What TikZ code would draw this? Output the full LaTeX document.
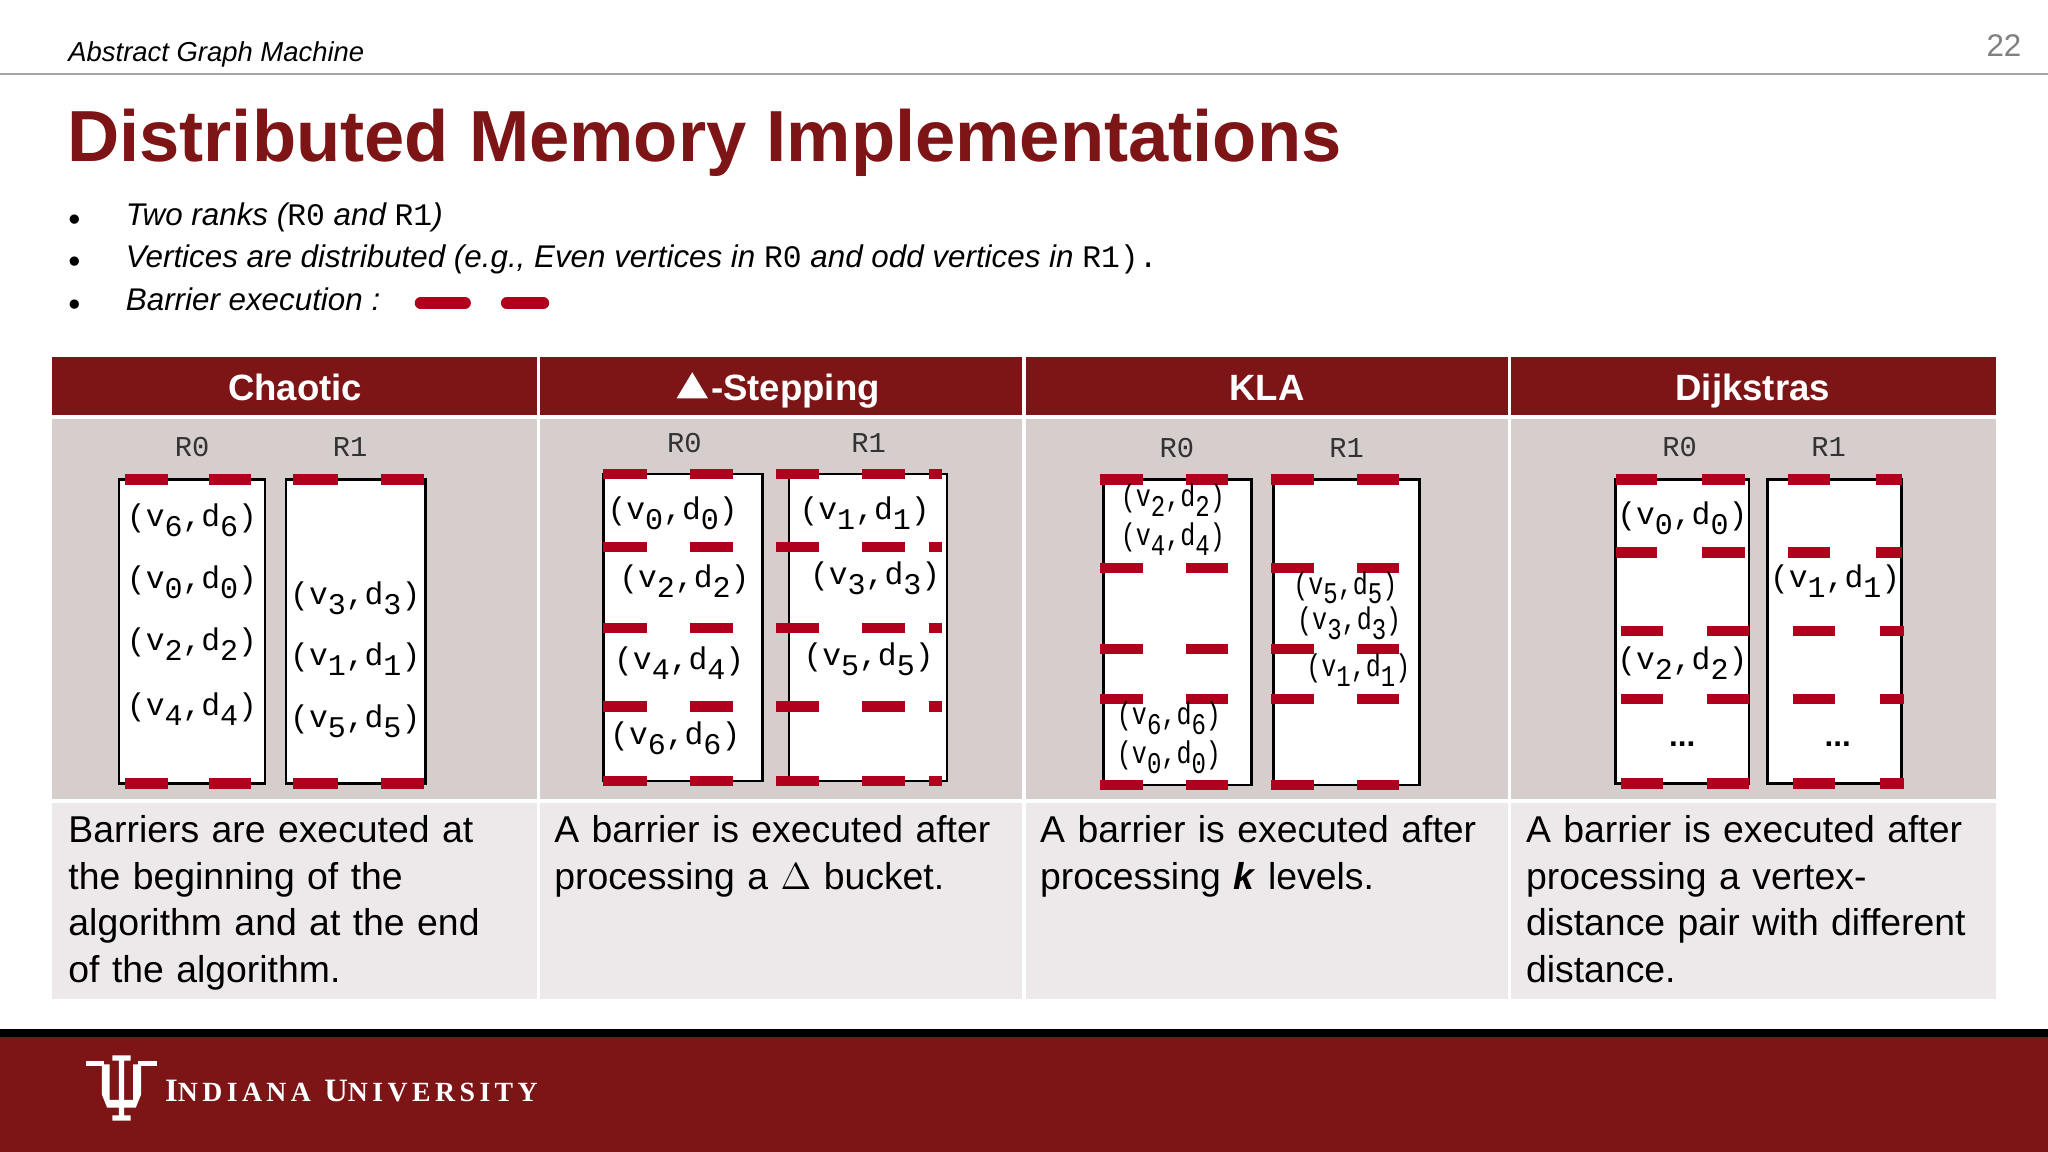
\documentclass[tikz,border=0pt]{standalone}
\usepackage{fontspec}
\setmainfont{Liberation Sans}
\setmonofont{Liberation Mono}
\newfontfamily\iuserif[LetterSpace=16]{Liberation Serif}
\definecolor{iured}{HTML}{7D1416}
\definecolor{dashred}{HTML}{B0001E}
\definecolor{cellg}{HTML}{D6CDCD}
\definecolor{celll}{HTML}{EDE9EA}
\newcommand{\sbx}[1]{\raisebox{-0.6ex}{\fontsize{11.5pt}{11pt}\selectfont #1}}
\newcommand{\pr}[2]{(v\sbx{#1},d\sbx{#2})}
\begin{document}
\begin{tikzpicture}[x=0.5pt,y=-0.5pt,
  hdr/.style={font=\fontsize{14pt}{16pt}\selectfont\bfseries,text=white,anchor=base},
  rk/.style={font=\ttfamily\fontsize{11pt}{12pt}\selectfont,text=black!80},
  ent/.style={font=\ttfamily\fontsize{12pt}{13pt}\selectfont,inner sep=0pt},
  kent/.style={ent,xscale=0.8},
  box/.style={draw=black,line width=1pt,fill=white},
  bar/.style={draw=dashred,line width=4pt},
  desc/.style={font=\fontsize{14.3pt}{17.8pt}\selectfont,anchor=north west,align=left,text width=175pt,inner sep=0pt}]
\useasboundingbox (0,0) rectangle (1568,882);
\fill[white] (0,0) rectangle (1568,882);
% header
\node[anchor=base west,inner sep=0pt,font=\itshape\fontsize{10.5pt}{12pt}\selectfont] (hd) at (52,47) {Abstract Graph Machine};
\node[anchor=base east,inner sep=0pt,font=\fontsize{12pt}{14pt}\selectfont,text=black!50] (pg) at (1548,43) {22};
\draw[black!35,line width=0.8pt] (0,57) -- (1568,57);
\node[anchor=base west,inner sep=0pt,font=\bfseries\fontsize{27.7pt}{32pt}\selectfont,text=iured] (title) at (51,124) {Distributed Memory Implementations};
% bullets
\foreach \y/\t in {173/{Two ranks ({\upshape\ttfamily R0} and {\upshape\ttfamily R1})},
  205/{Vertices are distributed (e.g., Even vertices in {\upshape\ttfamily R0} and odd vertices in {\upshape\ttfamily R1).}},
  238/{Barrier execution :}}{
  \node[anchor=base west,inner sep=0pt,font=\fontsize{9pt}{14pt}\selectfont] at (52,\y) {$\bullet$};
  \node[anchor=base west,inner sep=0pt,font=\itshape\fontsize{12pt}{14pt}\selectfont] at (96,\y) {\t};
}
\draw[dashred,line width=4.5pt,line cap=round] (322,232) -- (356,232);
\draw[dashred,line width=4.5pt,line cap=round] (388,232) -- (416,232);
% table
\fill[iured] (40,273) rectangle (1528,318);
\fill[cellg] (40,321) rectangle (1528,612);
\fill[celll] (40,615) rectangle (1528,765);
\foreach \x in {412,784,1156}{\draw[white,line width=1.2pt] (\x,273) -- (\x,765);}
\node[hdr] (h1) at (226,307) {Chaotic};
\node[hdr] (h2) at (609,307) {-Stepping};
\fill[white] (518,305) -- (542,305) -- (530,285) -- cycle;
\node[hdr] (h3) at (970,307) {KLA};
\node[hdr] (h4) at (1342,307) {Dijkstras};
% ---------- Chaotic
\node[rk] at (147,342) {R0}; \node[rk] at (268,342) {R1};
\draw[box] (91,367) rectangle (203,600);
\draw[box] (219,367) rectangle (326,600);
\foreach \y in {367,600}{
  \draw[bar] (96,\y)--(129,\y); \draw[bar] (160,\y)--(192,\y);
  \draw[bar] (224,\y)--(259,\y); \draw[bar] (292,\y)--(325,\y);}
\node[ent] at (147,398) {\pr66}; \node[ent] at (147,446) {\pr00};
\node[ent] at (147,493) {\pr22}; \node[ent] at (147,543) {\pr44};
\node[ent] at (272,458) {\pr33}; \node[ent] at (272,505) {\pr11};
\node[ent] at (272,552) {\pr55};
% ---------- Delta
\node[rk] at (524,339) {R0}; \node[rk] at (665,339) {R1};
\draw[box] (462,363) rectangle (584,598);
\draw[box] (604,363) rectangle (725,598);
\foreach \y in {363,419,481,541,598}{
  \draw[bar] (462,\y)--(495,\y); \draw[bar] (528,\y)--(561,\y);
  \draw[bar] (594,\y)--(627,\y); \draw[bar] (660,\y)--(693,\y); \draw[bar] (711,\y)--(721,\y);}
\node[ent] at (515,393) {\pr00}; \node[ent] at (524,445) {\pr22};
\node[ent] at (520,508) {\pr44}; \node[ent] at (517,565) {\pr66};
\node[ent] at (662,393) {\pr11}; \node[ent] at (670,443) {\pr33};
\node[ent] at (665,505) {\pr55};
% ---------- KLA
\node[rk] at (901,343) {R0}; \node[rk] at (1031,343) {R1};
\draw[box] (845,367) rectangle (958,601);
\draw[box] (975,367) rectangle (1087,601);
\foreach \y in {367,435,497,535,601}{
  \draw[bar] (842,\y)--(875,\y); \draw[bar] (908,\y)--(940,\y);
  \draw[bar] (973,\y)--(1006,\y); \draw[bar] (1039,\y)--(1071,\y);}
\node[kent] at (898,383) {\pr22}; \node[kent] at (898,413) {\pr44};
\node[kent] at (1030,450) {\pr55}; \node[kent] at (1033,477) {\pr33};
\node[kent] at (1040,513) {\pr11};
\node[kent] at (895,550) {\pr66}; \node[kent] at (895,580) {\pr00};
% ---------- Dijkstra
\node[rk] at (1286,342) {R0}; \node[rk] at (1400,342) {R1};
\draw[box] (1237,367) rectangle (1339,600);
\draw[box] (1353,367) rectangle (1456,600);
\foreach \y in {367,423}{
  \draw[bar] (1237,\y)--(1269,\y); \draw[bar] (1303,\y)--(1336,\y);
  \draw[bar] (1369,\y)--(1401,\y); \draw[bar] (1436,\y)--(1456,\y);}
\foreach \y in {483,535,600}{
  \draw[bar] (1241,\y)--(1273,\y); \draw[bar] (1307,\y)--(1339,\y);
  \draw[bar] (1373,\y)--(1405,\y); \draw[bar] (1439,\y)--(1458,\y);}
\node[ent] at (1288,397) {\pr00}; \node[ent] at (1405,445) {\pr11};
\node[ent] at (1288,508) {\pr22};
\node[ent,font=\bfseries\fontsize{12pt}{13pt}\selectfont] at (1288,570) {...};
\node[ent,font=\bfseries\fontsize{12pt}{13pt}\selectfont] at (1407,570) {...};
% descriptions
\node[desc] at (52,624) {Barriers are executed at\\the beginning of the\\algorithm and at the end\\of the algorithm.};
\node[desc] at (424,624) {A barrier is executed after\\processing a $\Delta$ bucket.};
\node[desc] at (796,624) {A barrier is executed after\\processing \textbf{\textit{k}} levels.};
\node[desc] at (1168,624) {A barrier is executed after\\processing a vertex-\\distance pair with different\\distance.};
% footer
\fill[black] (0,788) rectangle (1568,794);
\fill[iured] (0,794) rectangle (1568,882);
\fill[white] (78,815) -- (84,815) -- (84,842) -- (91,842) -- (91,812) -- (86,812) -- (86,808) -- (100,808) -- (100,812) -- (95,812) -- (95,842) -- (102,842) -- (102,815) -- (108,815) -- (108,838) -- (104,848) -- (95,848) -- (95,854) -- (100,854) -- (100,858) -- (86,858) -- (86,854) -- (91,854) -- (91,848) -- (82,848) -- (78,838) -- cycle;
\fill[white] (66,812) rectangle (80,816); \fill[white] (106,812) rectangle (120,816);
\node[anchor=base west,inner sep=0pt,text=white,font=\iuserif\bfseries\fontsize{12.5pt}{12pt}\selectfont] (iu) at (126,843) {I\scalebox{0.85}{NDIANA} U\scalebox{0.85}{NIVERSITY}};
\end{tikzpicture}
\end{document}
